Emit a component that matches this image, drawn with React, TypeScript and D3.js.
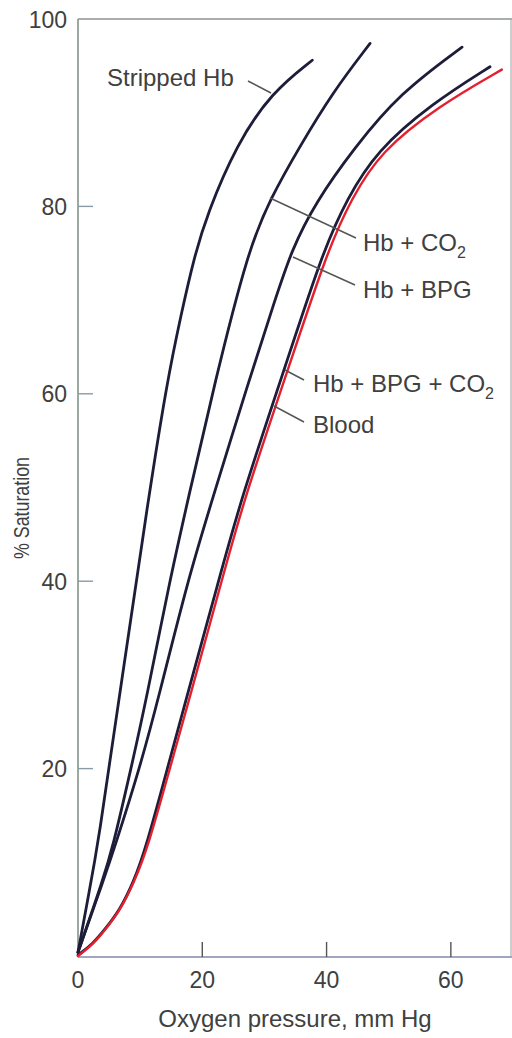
import React from "react";
import * as d3 from "d3";

type P = [number, number];

const strippedHb: P[] = [
  [0, 0.4], [1.6, 6.2], [3.2, 11.7], [7.2, 30.2], [11.3, 48.7], [14.3, 61.2], [16.6, 68.5],
  [18.7, 74.6], [20.8, 79.2], [25.5, 86.6], [31.2, 92.2], [37.7, 95.6],
];
const hbCO2: P[] = [
  [0, 0.4], [4.0, 8.1], [5.6, 11.6], [8.6, 20.2], [11.0, 27.4], [14.8, 40.2], [17.7, 48.7],
  [22.0, 61.2], [27.4, 75.4], [31.0, 80.9], [35.6, 86.3], [41.0, 92.2], [47.0, 97.4],
];
const hbBPG: P[] = [
  [0, 0.4], [4.1, 8.1], [5.9, 11.6], [10.0, 20.2], [12.9, 27.4], [17.7, 40.2], [21.6, 48.7],
  [27.4, 61.2], [31.7, 70.0], [34.4, 75.4], [38.2, 80.4], [44.4, 86.2], [51.8, 92.1], [61.8, 97.0],
];
const hbBPGCO2: P[] = [
  [0, 0.1], [2.4, 1.3], [4.4, 2.9], [6.7, 4.9], [8.9, 7.8], [11.0, 11.7], [14.5, 20.3],
  [17.4, 27.4], [22.7, 40.2], [26.2, 48.7], [32.9, 62.0], [39.5, 75.4], [43.3, 80.8],
  [48.0, 85.9], [57, 91.0], [66.3, 94.9],
];
const blood: P[] = [
  [0, 0], [2.5, 1.3], [4.5, 2.9], [6.8, 4.9], [9.0, 7.8], [11.3, 11.7], [14.9, 20.3],
  [17.9, 27.4], [23.2, 40.2], [26.7, 48.7], [33.5, 62.0], [40.2, 75.4], [44.0, 80.8],
  [48.6, 85.8], [58, 90.7], [68.2, 94.6],
];

const xTicks = [0, 20, 40, 60];
const yTicks = [20, 40, 60, 80, 100];

const labelFont = "'Liberation Sans', Arial, Helvetica, sans-serif";
const textColor = "#404040";

export default function App() {
  const x = d3.scaleLinear().domain([0, 70]).range([78, 513]);
  const y = d3.scaleLinear().domain([0, 100]).range([956, 19]);

  const line = d3
    .line<P>()
    .x((d) => x(d[0]))
    .y((d) => y(d[1]))
    .curve(d3.curveBasis);

  const blackSeries = [strippedHb, hbCO2, hbBPG, hbBPGCO2];

  const x0 = x(0);
  const xR = 511;
  const yTop = y(100);
  const yBot = y(0) + 1;

  return (
    <svg
      width={512}
      height={1038}
      style={{ position: "absolute", left: 0, top: 0, background: "#fff" }}
      fontFamily={labelFont}
    >
      {/* frame */}
      <line x1={x0} x2={xR + 1} y1={yTop} y2={yTop} stroke="#8e9490" strokeWidth={1.5} />
      <line x1={xR} x2={xR} y1={yTop} y2={yBot} stroke="#a8b0a8" strokeWidth={1.2} />
      <line x1={x0} x2={x0} y1={yTop} y2={yBot} stroke="#82948a" strokeWidth={1.6} />
      <line x1={x0} x2={xR + 1} y1={yBot} y2={yBot} stroke="#9ea6c0" strokeWidth={1.8} />

      {/* y ticks */}
      {yTicks.filter((t) => t < 100).map((t) => (
        <line key={"yt" + t} x1={x0} x2={x0 + 15} y1={y(t)} y2={y(t)} stroke="#8a9aa8" strokeWidth={1.4} />
      ))}
      {yTicks.map((t) => (
        <text key={"yl" + t} x={67} y={y(t) + 8.5} textAnchor="end" fontSize={23} fill={textColor}>
          {t}
        </text>
      ))}

      {/* x ticks */}
      {xTicks.filter((t) => t > 0).map((t) => (
        <line key={"xt" + t} x1={x(t)} x2={x(t)} y1={yBot - 15} y2={yBot} stroke="#555" strokeWidth={1.4} />
      ))}
      {xTicks.map((t) => (
        <text key={"xl" + t} x={x(t)} y={988} textAnchor="middle" fontSize={23} fill={textColor}>
          {t}
        </text>
      ))}

      {/* axis titles */}
      <text x={295} y={1027} textAnchor="middle" fontSize={24} fill={textColor}>
        Oxygen pressure, mm Hg
      </text>
      <text
        transform="translate(29,508) rotate(-90)"
        textAnchor="middle"
        fontSize={22}
        fill={textColor}
        textLength={102}
        lengthAdjust="spacingAndGlyphs"
      >
        % Saturation
      </text>

      {/* curves */}
      {blackSeries.map((s, i) => (
        <path key={"c" + i} d={line(s) || ""} fill="none" stroke="#1d1d3a" strokeWidth={2.8} strokeLinecap="round" />
      ))}
      <path d={line(blood) || ""} fill="none" stroke="#e5202e" strokeWidth={2.4} strokeLinecap="round" />

      {/* leader lines */}
      <g stroke="#555" strokeWidth={1.5}>
        <line x1={248} y1={81} x2={271} y2={93} />
        <line x1={270} y1={198} x2={356} y2={238} />
        <line x1={293} y1={257} x2={355} y2={285} />
        <line x1={285} y1={370} x2={304} y2={380} />
        <line x1={274} y1={406} x2={304} y2={422} />
      </g>

      {/* labels */}
      <g fontSize={24} fill={textColor}>
        <text x={107} y={86}>Stripped Hb</text>
        <text x={363} y={251}>
          Hb + CO<tspan fontSize={16} dy={7}>2</tspan>
        </text>
        <text x={363} y={298}>Hb + BPG</text>
        <text x={313} y={392}>
          Hb + BPG + CO<tspan fontSize={16} dy={7}>2</tspan>
        </text>
        <text x={313} y={433}>Blood</text>
      </g>
    </svg>
  );
}
